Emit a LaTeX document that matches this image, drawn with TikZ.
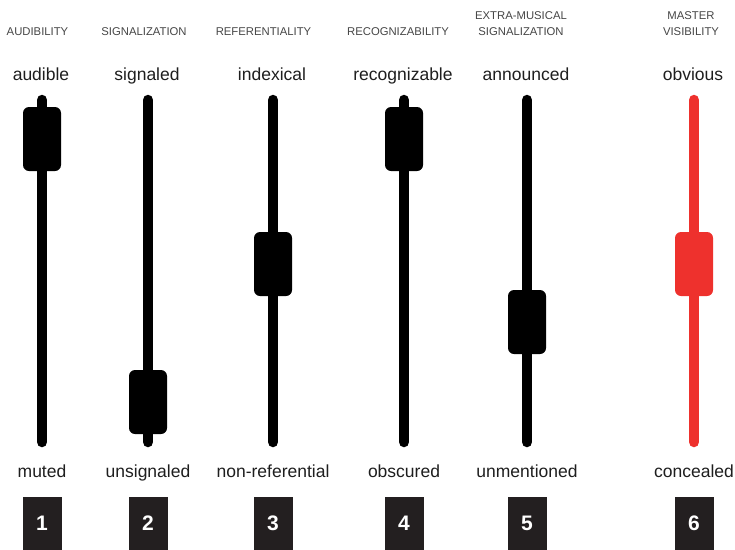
\documentclass[tikz,border=0pt]{standalone}
\usepackage{fontspec}
\setmainfont{Liberation Sans}
\usetikzlibrary{positioning}
\definecolor{sliderred}{HTML}{EE312D}
\definecolor{labelgray}{HTML}{454545}
\definecolor{textdark}{HTML}{1E1E1E}
\definecolor{boxdark}{HTML}{231F20}

\begin{document}
\begin{tikzpicture}[x=1pt, y=-1pt,
    track/.style={line width=10.5pt, line cap=round},
    knob/.style={rounded corners=6pt, minimum width=38pt, minimum height=64pt, inner sep=0pt},
    category/.style={text=labelgray, font=\fontsize{11.3}{16}\selectfont, align=center, anchor=south, inner sep=0pt},
    value/.style={text=textdark, font=\fontsize{17.5}{21}\selectfont, anchor=base, inner sep=0pt},
    numbox/.style={fill=boxdark, text=white, font=\fontsize{21}{22}\selectfont\bfseries,
      minimum width=39pt, minimum height=53pt, inner sep=0pt}]
  \useasboundingbox (0,0) rectangle (735,549);
  % x of slider / y of knob / colour / x of category / category / top / bottom
  \foreach \x/\k/\col/\cx/\cat/\hi/\lo [count=\i] in {
      42/139/black/37.5/AUDIBILITY/audible/muted,
      148/402/black/144/SIGNALIZATION/signaled/unsignaled,
      273/264/black/263.5/REFERENTIALITY/indexical/non-referential,
      404/139/black/398/RECOGNIZABILITY/recognizable/obscured,
      527/322/black/521/{EXTRA-MUSICAL\\SIGNALIZATION}/announced/unmentioned,
      694/264/sliderred/691/{MASTER\\VISIBILITY}/obvious/concealed}{
    \coordinate (top\i) at (\x,100);
    \coordinate (bot\i) at (\x,442);
    \draw[track, \col] (top\i) -- (bot\i);
    \node[knob, fill=\col] (knob\i) at (\x,\k) {};
    \node[category] (cat\i) at (\cx,36) {\cat};
    \node[value] (hi\i) at (\x-1,80) {\hi};
    \node[value] (lo\i) at (\x,477) {\lo};
    \node[numbox] (num\i) at (\x,523.5) {\i};
  }
\end{tikzpicture}
\end{document}
